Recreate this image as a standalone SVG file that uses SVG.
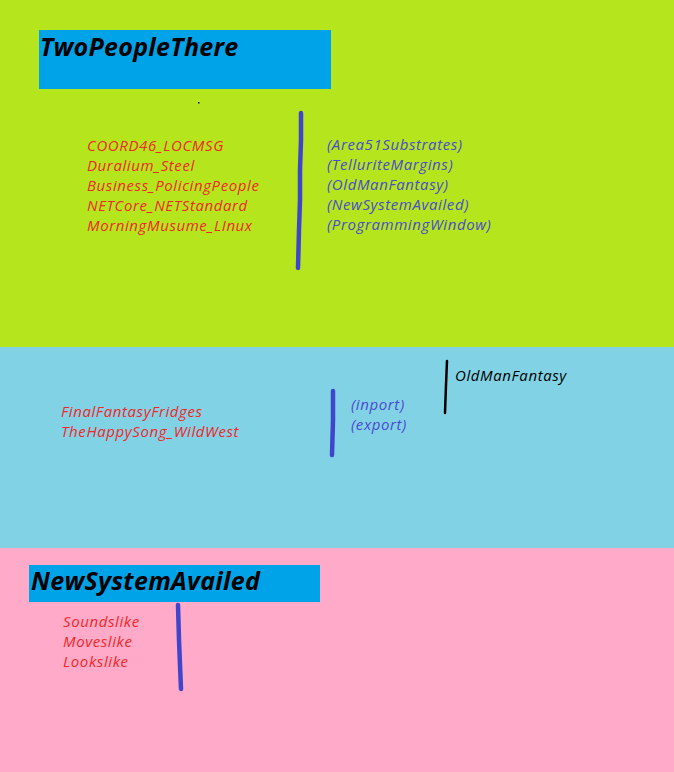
<svg xmlns="http://www.w3.org/2000/svg" width="674" height="772" viewBox="0 0 674 772">
  <style>
    .title { font-family: "Open Sans", "DejaVu Sans", sans-serif; font-weight: bold; font-style: italic; font-size: 25px; letter-spacing: 0.3px; fill: #000; }
    .item { font-family: "Open Sans", "DejaVu Sans", sans-serif; font-style: italic; font-size: 15px; letter-spacing: 0.6px; }
    .red { fill: #f02828; }
    .blue { fill: #4a4ad2; }
    .black { fill: #000; }
    .bar { stroke: #3f46cc; stroke-width: 4.5; stroke-linecap: round; fill: none; }
    .bar-dark { stroke: #000; stroke-width: 2.5; stroke-linecap: round; fill: none; }
    .box { fill: #00a2e8; }
  </style>

  <!-- background bands -->
  <rect x="0" y="0" width="674" height="347" fill="#b5e61d"/>
  <rect x="0" y="347" width="674" height="201" fill="#82d2e6"/>
  <rect x="0" y="548" width="674" height="224" fill="#ffaac8"/>

  <!-- top section -->
  <g id="two-people-there">
    <rect class="box" x="39" y="30" width="292" height="59"/>
    <text class="title" x="40" y="56">TwoPeopleThere</text>
    <rect x="198" y="102" width="1.5" height="1.5" fill="#000"/>
  </g>

  <g id="top-left-list">
    <text class="item red" x="87" y="151">COORD46_LOCMSG</text>
    <text class="item red" x="87" y="171">Duralium_Steel</text>
    <text class="item red" x="87" y="191">Business_PolicingPeople</text>
    <text class="item red" x="87" y="211">NETCore_NETStandard</text>
    <text class="item red" x="87" y="231">MorningMusume_LInux</text>
  </g>

  <g id="top-right-list">
    <text class="item blue" x="327" y="150">(Area51Substrates)</text>
    <text class="item blue" x="327" y="170">(TelluriteMargins)</text>
    <text class="item blue" x="327" y="190">(OldManFantasy)</text>
    <text class="item blue" x="327" y="210">(NewSystemAvailed)</text>
    <text class="item blue" x="327" y="230">(ProgrammingWindow)</text>
  </g>

  <!-- middle section -->
  <g id="middle-left-list">
    <text class="item red" x="61" y="417">FinalFantasyFridges</text>
    <text class="item red" x="61" y="437">TheHappySong_WildWest</text>
  </g>

  <g id="middle-right-list">
    <text class="item blue" x="351" y="410">(inport)</text>
    <text class="item blue" x="351" y="430">(export)</text>
  </g>

  <g id="old-man-fantasy">
    <text class="item black" x="455" y="381">OldManFantasy</text>
  </g>

  <!-- bottom section -->
  <g id="new-system-availed">
    <rect class="box" x="29" y="565" width="291" height="37"/>
    <text class="title" x="31" y="590">NewSystemAvailed</text>
  </g>

  <g id="bottom-list">
    <text class="item red" x="63" y="627">Soundslike</text>
    <text class="item red" x="63" y="647">Moveslike</text>
    <text class="item red" x="63" y="667">Lookslike</text>
  </g>

  <!-- hand-drawn divider strokes -->
  <g id="connectors">
    <path class="bar" d="M301 113 L301 140 L300 170 L300 200 L299 230 L298 268"/>
    <path class="bar" d="M333 391 L333 420 L332 455"/>
    <path class="bar-dark" d="M447 361 L446 385 L445 413"/>
    <path class="bar" d="M178 605 L179 640 L180 665 L181 689"/>
  </g>
</svg>
